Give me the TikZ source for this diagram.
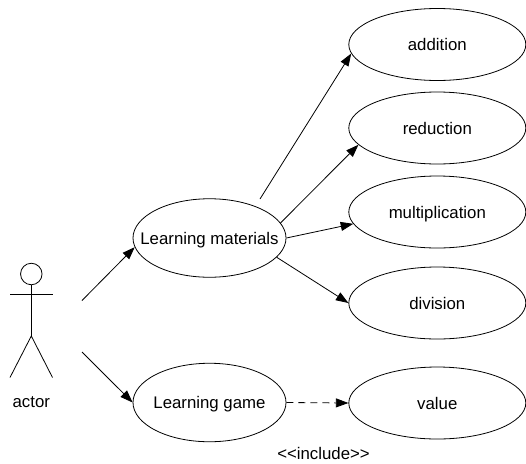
\documentclass[tikz,border=0pt]{standalone}
\usepackage{fontspec}
\setmainfont{Liberation Sans}
\usetikzlibrary{shapes.geometric,arrows.meta}
\tikzset{
  usecase/.style={draw=black,ellipse,text depth=0pt,inner ysep=-3pt,inner xsep=-22pt,line width=0.8pt,font=\fontsize{16.8}{18}\selectfont},
  bigcase/.style={usecase,minimum width=177pt,minimum height=72pt},
  leftcase/.style={usecase,minimum width=153pt,minimum height=78.5pt},
  link/.style={draw=black,line width=0.8pt,-{Triangle[length=12.5pt,width=9pt]}},
  limb/.style={draw=black,line width=0.8pt},
  txt/.style={inner sep=0pt,font=\fontsize{16.8}{18}\selectfont}
}
\begin{document}
\begin{tikzpicture}[x=1pt,y=-1pt]
\useasboundingbox (0,0) rectangle (526,463);
\node[bigcase] (add) at (437.3,44.5) {addition};
\node[bigcase] (red) at (437.3,128) {reduction};
\node[bigcase] (mul) at (437.3,212) {multiplication};
\node[bigcase] (div) at (437.3,303) {division};
\node[bigcase] (val) at (437.3,403) {value};
\node[leftcase] (lm) at (209.5,238) {Learning materials};
\node[leftcase] (lg) at (209.5,402.5) {Learning game};
\node[draw=black,circle,line width=0.8pt,minimum size=21.5pt,inner sep=0pt] (head) at (31.3,274) {};
\coordinate (armL) at (10,294.7);
\coordinate (armR) at (52.5,294.7);
\coordinate (hip) at (31.3,336);
\coordinate (footL) at (10,377.5);
\coordinate (footR) at (52.5,377.5);
\coordinate (handA) at (82,300.5);
\coordinate (handB) at (82,352);
\coordinate (lmtop) at (260,199);
\draw[limb] (armL) -- (armR);
\draw[limb] (head.south) -- (hip);
\draw[limb] (footL) -- (hip) -- (footR);
\node[txt] (actor) at (31.3,402.5) {actor};
\draw[link] (handA) -- (lm.187.6);
\draw[link] (handB) -- (lg.west);
\draw[link] (lmtop) -- (add.186.9);
\draw[link] (lm.12.8) -- (red.192.8);
\draw[link] (lm.east) -- (mul.188);
\draw[link] (lm.-16.7) -- (div.west);
\draw[link,dash pattern=on 7pt off 5pt] (lg.east) -- (val.west);
\node[txt] (inc) at (323.5,453.5) {<{}<include>{}>};
\end{tikzpicture}
\end{document}
